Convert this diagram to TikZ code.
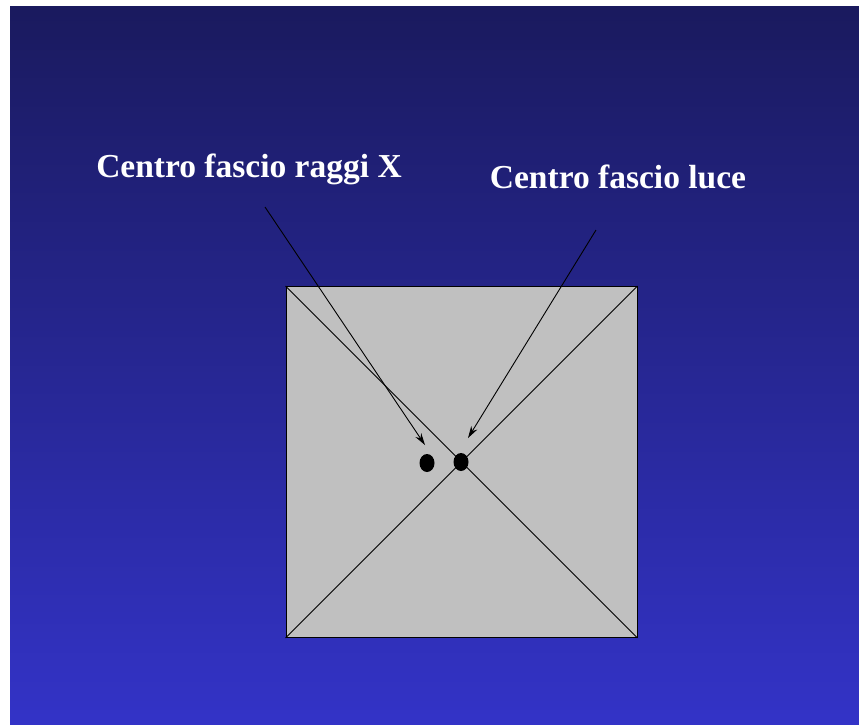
\documentclass[tikz,border=0pt]{standalone}
\usepackage{fontspec}
\setmainfont{Liberation Serif}
\usetikzlibrary{arrows.meta,shapes.geometric}
\definecolor{slidetop}{RGB}{26,26,94}
\definecolor{slidebottom}{RGB}{51,51,199}
\definecolor{plategray}{RGB}{192,192,192}

\begin{document}
\begin{tikzpicture}[x=1pt, y=-1pt,
    caption/.style={font=\fontsize{33.5}{38}\selectfont\bfseries, text=white, inner sep=0pt},
    spot/.style={ellipse, fill=black, minimum width=15pt, minimum height=18pt, inner sep=0pt},
    pointer/.style={line width=0.9pt, -{Stealth[length=12pt,width=7pt]}}]
  \useasboundingbox (0,0) rectangle (859,724);
  % Slide background
  \fill[white] (0,0) rectangle (859,724);
  \shade[top color=slidetop, bottom color=slidebottom] (10,6) rectangle (859,724);
  % Light field plate with diagonals
  \node[draw, line width=0.9pt, fill=plategray, minimum size=351pt, inner sep=0pt] (plate) at (461.5,462) {};
  \draw[line width=0.9pt] (plate.north west) -- (plate.south east);
  \draw[line width=0.9pt] (plate.south west) -- (plate.north east);
  % Beam centres
  \node[spot] (xspot) at (427,463) {};
  \node[spot] (lightspot) at (461,462) {};
  % Labels
  \node[caption] (xlabel) at (249,169) {Centro fascio raggi X};
  \node[caption] (lightlabel) at (618,177) {Centro fascio luce};
  % Pointers
  \coordinate (xtail) at (265,207);
  \coordinate (xhead) at (425,445);
  \coordinate (lighttail) at (596,230);
  \coordinate (lighthead) at (468,438);
  \draw[pointer] (xtail) -- (xhead);
  \draw[pointer] (lighttail) -- (lighthead);
\end{tikzpicture}
\end{document}
